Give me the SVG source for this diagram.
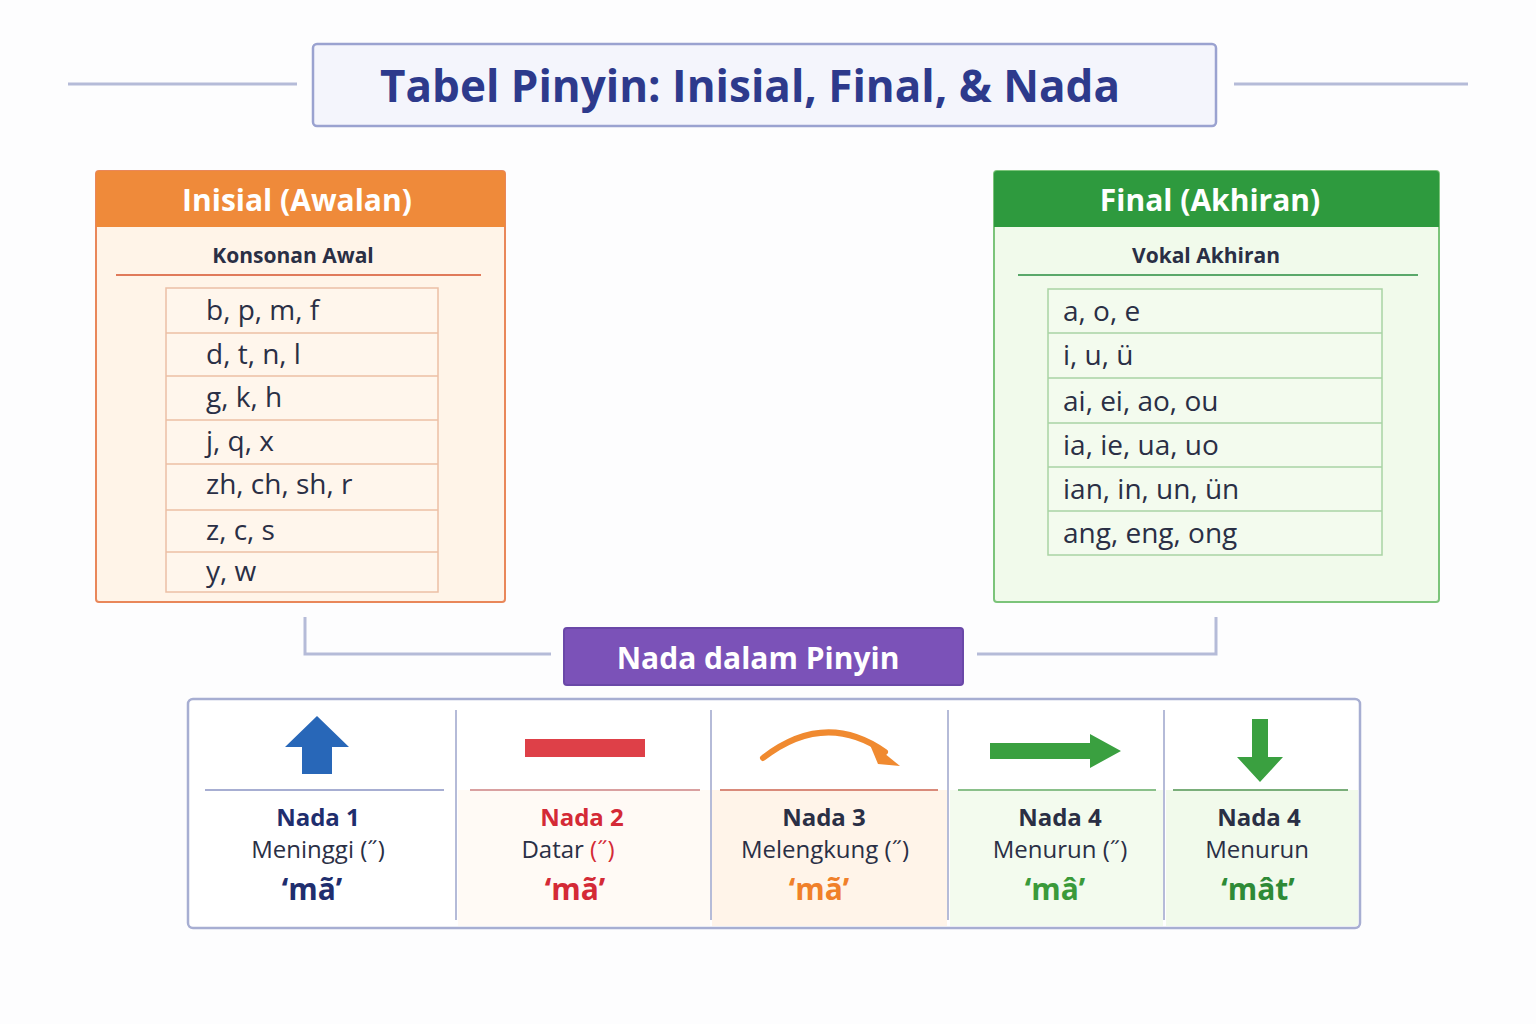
<svg xmlns="http://www.w3.org/2000/svg" width="1536" height="1024" viewBox="0 0 1536 1024">
<style>
text{font-family:"Open Sans","Noto Sans","Liberation Sans",sans-serif}
.title{font-size:44px;font-weight:700;fill:#2d3a8c}
.hdr{font-size:30px;font-weight:700;fill:#fff}
.sub{font-size:21px;font-weight:700;fill:#2a2f45}
.cell{font-size:28px;fill:#2a2f45}
.nt{font-size:24px;font-weight:700;text-anchor:middle}
.nd{font-size:24px;fill:#2a2f45;text-anchor:middle}
.ex{font-size:30px;font-weight:700;text-anchor:middle}
.conn{fill:none;stroke:#b5bbd8;stroke-width:3}
</style>
<rect width="1536" height="1024" fill="#fdfdfe"/>
<g id="connectors">
<line x1="68" y1="84" x2="297" y2="84" class="conn"/>
<line x1="1234" y1="84" x2="1468" y2="84" class="conn"/>
<path d="M305 617 V654 H551" class="conn"/>
<path d="M1216 617 V654 H977" class="conn"/>
</g>
<g id="title">
<rect x="313" y="44" width="903" height="82" rx="4" fill="#f4f5fc" stroke="#9aa2d0" stroke-width="2.5"/>
<text x="750" y="102" text-anchor="middle" class="title">Tabel Pinyin: Inisial, Final, &amp; Nada</text>
</g>
<g id="inisial">
<rect x="96" y="171" width="409" height="431" rx="3" fill="#fff4e8" stroke="#e9875a" stroke-width="2"/>
<path d="M96 174 a3 3 0 0 1 3-3 h403 a3 3 0 0 1 3 3 V227 H96 Z" fill="#ef8a3a"/>
<text x="297" y="211" text-anchor="middle" class="hdr">Inisial (Awalan)</text>
<text x="293" y="263" text-anchor="middle" class="sub">Konsonan Awal</text>
<line x1="116" y1="275" x2="481" y2="275" stroke="#e07a5a" stroke-width="2"/>
<rect x="166" y="288" width="272" height="304" fill="#fff6ec" stroke="#ecbfa5" stroke-width="1.5"/>
<g stroke="#ecbfa5" stroke-width="1.5">
<line x1="166" y1="333" x2="438" y2="333"/><line x1="166" y1="376" x2="438" y2="376"/>
<line x1="166" y1="420" x2="438" y2="420"/><line x1="166" y1="464" x2="438" y2="464"/>
<line x1="166" y1="510" x2="438" y2="510"/><line x1="166" y1="552" x2="438" y2="552"/>
</g>
<text x="206" y="320" class="cell">b, p, m, f</text>
<text x="206" y="364" class="cell">d, t, n, l</text>
<text x="206" y="407" class="cell">g, k, h</text>
<text x="206" y="451" class="cell">j, q, x</text>
<text x="206" y="494" class="cell">zh, ch, sh, r</text>
<text x="206" y="540" class="cell">z, c, s</text>
<text x="206" y="581" class="cell">y, w</text>
</g>
<g id="final">
<rect x="994" y="171" width="445" height="431" rx="3" fill="#f1faeb" stroke="#7cc47a" stroke-width="2"/>
<path d="M994 174 a3 3 0 0 1 3-3 h439 a3 3 0 0 1 3 3 V227 H994 Z" fill="#2e9a3e"/>
<text x="1210" y="211" text-anchor="middle" class="hdr">Final (Akhiran)</text>
<text x="1206" y="263" text-anchor="middle" class="sub">Vokal Akhiran</text>
<line x1="1018" y1="275" x2="1418" y2="275" stroke="#5aa86a" stroke-width="2"/>
<rect x="1048" y="289" width="334" height="266" fill="#f3fbee" stroke="#a9d3a4" stroke-width="1.5"/>
<g stroke="#a9d3a4" stroke-width="1.5">
<line x1="1048" y1="333" x2="1382" y2="333"/><line x1="1048" y1="378" x2="1382" y2="378"/>
<line x1="1048" y1="423" x2="1382" y2="423"/><line x1="1048" y1="467" x2="1382" y2="467"/>
<line x1="1048" y1="511" x2="1382" y2="511"/>
</g>
<text x="1063" y="321" class="cell">a, o, e</text>
<text x="1063" y="365" class="cell">i, u, ü</text>
<text x="1063" y="411" class="cell">ai, ei, ao, ou</text>
<text x="1063" y="455" class="cell">ia, ie, ua, uo</text>
<text x="1063" y="499" class="cell">ian, in, un, ün</text>
<text x="1063" y="543" class="cell">ang, eng, ong</text>
</g>
<g id="nada-header">
<rect x="564" y="628" width="399" height="57" rx="3" fill="#7b52b8" stroke="#6a48a8" stroke-width="2"/>
<text x="758" y="669" text-anchor="middle" class="hdr">Nada dalam Pinyin</text>
</g>
<g id="nada-table">
<rect x="188" y="699" width="1172" height="229" rx="5" fill="#fff" stroke="#a7aed2" stroke-width="2.5"/>
<rect x="458" y="790" width="252" height="136" fill="#fffaf5"/>
<rect x="712" y="790" width="235" height="136" fill="#fff4e9"/>
<rect x="950" y="790" width="213" height="136" fill="#f3fbee"/>
<rect x="1166" y="790" width="192" height="136" fill="#f1faeb"/>
<g stroke="#b5bbd8" stroke-width="2">
<line x1="456" y1="710" x2="456" y2="920"/><line x1="711" y1="710" x2="711" y2="920"/>
<line x1="948" y1="710" x2="948" y2="920"/><line x1="1164" y1="710" x2="1164" y2="920"/>
</g>
<line x1="205" y1="790" x2="444" y2="790" stroke="#a7aed2" stroke-width="2"/>
<line x1="470" y1="790" x2="700" y2="790" stroke="#d9a0a0" stroke-width="2"/>
<line x1="720" y1="790" x2="938" y2="790" stroke="#d98a7a" stroke-width="2"/>
<line x1="958" y1="790" x2="1156" y2="790" stroke="#8ac08a" stroke-width="2"/>
<line x1="1173" y1="790" x2="1348" y2="790" stroke="#7aae7a" stroke-width="2"/>
<polygon points="317,716 349,747 332,747 332,774 302,774 302,747 285,747" fill="#2867b8"/>
<rect x="525" y="739" width="120" height="18" fill="#de4048"/>
<path d="M763 758 Q825 710 885 752" fill="none" stroke="#f08a30" stroke-width="6" stroke-linecap="round"/>
<polygon points="868,740 900,766 878,764" fill="#f08a30"/>
<polygon points="990,743 1090,743 1090,734 1121,751 1090,768 1090,759 990,759" fill="#3aa040"/>
<polygon points="1252,719 1268,719 1268,757 1283,757 1260,782 1237,757 1252,757" fill="#3aa040"/>
<text x="318" y="826" class="nt" fill="#1f2e6e">Nada 1</text>
<text x="318" y="858" class="nd">Meninggi (˝)</text>
<text x="312" y="900" class="ex" fill="#1f2e6e">‘mã’</text>
<text x="582" y="826" class="nt" fill="#d42a36">Nada 2</text>
<text x="568" y="858" class="nd">Datar <tspan fill="#d42a36">(˝)</tspan></text>
<text x="575" y="900" class="ex" fill="#d42a36">‘mã’</text>
<text x="824" y="826" class="nt" fill="#2a2f45">Nada 3</text>
<text x="825" y="858" class="nd">Melengkung (˝)</text>
<text x="819" y="900" class="ex" fill="#f0802a">‘mã’</text>
<text x="1060" y="826" class="nt" fill="#2a2f45">Nada 4</text>
<text x="1060" y="858" class="nd">Menurun (˝)</text>
<text x="1055" y="900" class="ex" fill="#3a9a3a">‘mâ’</text>
<text x="1259" y="826" class="nt" fill="#2a2f45">Nada 4</text>
<text x="1257" y="858" class="nd">Menurun</text>
<text x="1258" y="900" class="ex" fill="#2e8a36">‘mât’</text>
</g>
</svg>
